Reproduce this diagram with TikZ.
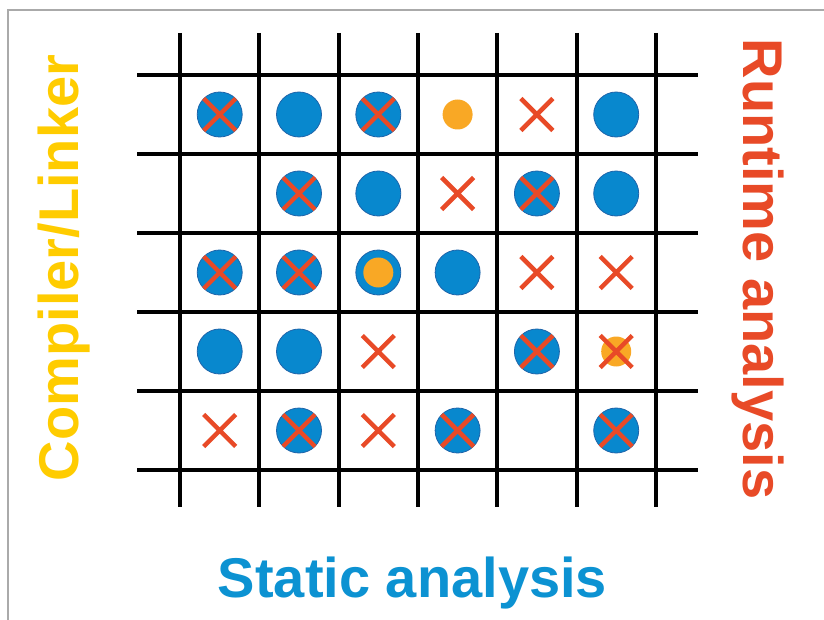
\documentclass[tikz,border=0pt]{standalone}
\usepackage{fontspec}
\setmainfont{Liberation Sans}
\definecolor{cblue}{RGB}{8,136,206}
\definecolor{cbluedk}{RGB}{30,100,170}
\definecolor{corange}{RGB}{249,168,37}
\definecolor{cred}{RGB}{232,74,39}
\definecolor{cyellow}{RGB}{255,204,0}
\definecolor{ctext}{RGB}{12,146,210}
\definecolor{cframe}{RGB}{170,170,170}
\begin{document}
\begin{tikzpicture}[x=1pt,y=-1pt,
  gridline/.style={line width=4pt,black},
  bdot/.style={circle,fill=cblue,draw=cbluedk,line width=0.8pt,minimum size=45pt,inner sep=0pt},
  odot/.style={circle,fill=corange,minimum size=30pt,inner sep=0pt},
  xline/.style={cred,line width=4.5pt},
  lbl/.style={font=\fontsize{56}{60}\selectfont\bfseries,inner sep=0pt},
  pics/xmark/.style={code={\draw[xline] (-16,-16)--(16,16) (-16,16)--(16,-16);}}
]
\useasboundingbox (0,0) rectangle (824,620);
\fill[white] (0,0) rectangle (824,620);
\draw[cframe,line width=1.5pt] (8,620) -- (8,10) -- (824,10);

% grid
\foreach \gx in {180,259.3,338.6,417.9,497.2,576.5,655.8}
  \draw[gridline] (\gx,33) -- (\gx,507);
\foreach \gy in {75,154,233,312,391,470}
  \draw[gridline] (137,\gy) -- (698,\gy);

% row 1
\node[bdot] (r1c1) at (219.7,114.5) {};
\pic at (r1c1) {xmark};
\node[bdot] (r1c2) at (299.0,114.5) {};
\node[bdot] (r1c3) at (378.3,114.5) {};
\pic at (r1c3) {xmark};
\node[odot] (r1c4) at (457.6,114.5) {};
\coordinate (r1c5) at (536.9,114.5);
\pic at (r1c5) {xmark};
\node[bdot] (r1c6) at (616.2,114.5) {};

% row 2
\node[bdot] (r2c2) at (299.0,193.5) {};
\pic at (r2c2) {xmark};
\node[bdot] (r2c3) at (378.3,193.5) {};
\coordinate (r2c4) at (457.6,193.5);
\pic at (r2c4) {xmark};
\node[bdot] (r2c5) at (536.9,193.5) {};
\pic at (r2c5) {xmark};
\node[bdot] (r2c6) at (616.2,193.5) {};

% row 3
\node[bdot] (r3c1) at (219.7,272.5) {};
\pic at (r3c1) {xmark};
\node[bdot] (r3c2) at (299.0,272.5) {};
\pic at (r3c2) {xmark};
\node[bdot] (r3c3) at (378.3,272.5) {};
\node[odot] (r3c3o) at (r3c3) {};
\node[bdot] (r3c4) at (457.6,272.5) {};
\coordinate (r3c5) at (536.9,272.5);
\pic at (r3c5) {xmark};
\coordinate (r3c6) at (616.2,272.5);
\pic at (r3c6) {xmark};

% row 4
\node[bdot] (r4c1) at (219.7,351.5) {};
\node[bdot] (r4c2) at (299.0,351.5) {};
\coordinate (r4c3) at (378.3,351.5);
\pic at (r4c3) {xmark};
\node[bdot] (r4c5) at (536.9,351.5) {};
\pic at (r4c5) {xmark};
\node[odot] (r4c6) at (616.2,351.5) {};
\pic at (r4c6) {xmark};

% row 5
\coordinate (r5c1) at (219.7,430.5);
\pic at (r5c1) {xmark};
\node[bdot] (r5c2) at (299.0,430.5) {};
\pic at (r5c2) {xmark};
\coordinate (r5c3) at (378.3,430.5);
\pic at (r5c3) {xmark};
\node[bdot] (r5c4) at (457.6,430.5) {};
\pic at (r5c4) {xmark};
\node[bdot] (r5c6) at (616.2,430.5) {};
\pic at (r5c6) {xmark};

% labels
\node[lbl,text=cyellow,rotate=90,anchor=base] (comp) at (78,268) {Compiler/Linker};
\node[lbl,text=cred,rotate=-90,anchor=base] (run) at (743,269) {Runtime analysis};
\node[lbl,text=ctext,anchor=base] (stat) at (412.5,597) {Static analysis};
\end{tikzpicture}
\end{document}
